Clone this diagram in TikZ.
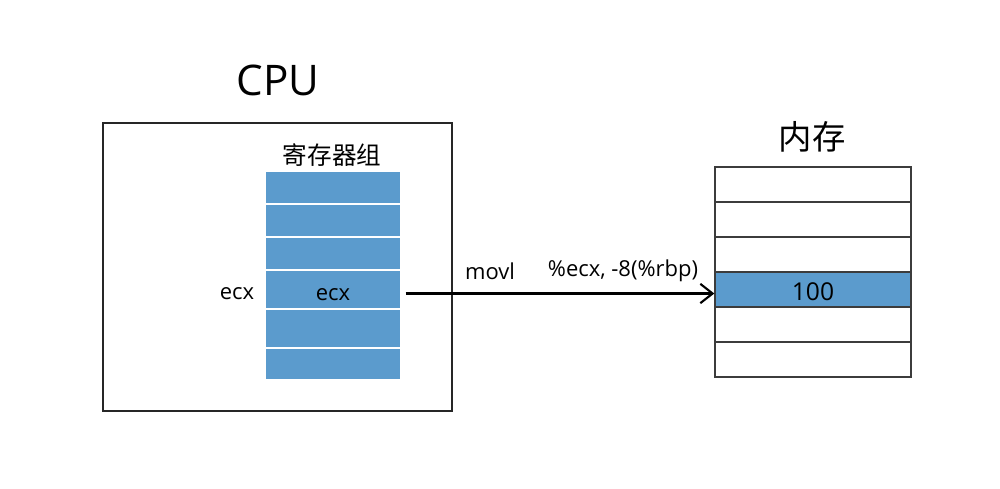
\documentclass[tikz,border=0pt]{standalone}
\usepackage{fontspec}
\setmainfont{Open Sans}
\newfontfamily\cjk{Noto Sans CJK SC}
\usetikzlibrary{arrows.meta, positioning}
\definecolor{regblue}{RGB}{91, 155, 205}
\definecolor{cellgray}{RGB}{60, 60, 60}
\tikzset{
  % Rahmen der CPU
  cpubox/.style   = {draw=black!85, line width=1pt},
  % Register- und Speicherzellen
  regcell/.style  = {fill=regblue, draw=white, line width=0.8pt,
                     minimum width=2.72cm, inner sep=0pt},
  memcell/.style  = {fill=white, draw=cellgray, line width=0.8pt,
                     minimum width=3.92cm, minimum height=0.7cm, inner sep=0pt},
  memhot/.style   = {memcell, fill=regblue},
  % Beschriftungen
  title/.style    = {font=\fontsize{24}{28}\selectfont},
  cjklab/.style   = {font=\cjk\fontsize{14}{16}\selectfont},
  cjktitle/.style = {font=\cjk\fontsize{19}{22}\selectfont},
  lab/.style      = {font=\fontsize{12.5}{14}\selectfont, inner sep=1pt},
  numlab/.style   = {font=\fontsize{14}{16}\selectfont, inner sep=1pt},
  % Datenfluss
  flow/.style     = {-{Straight Barb[length=7pt, width=11pt, line width=1.2pt]}, line width=1.7pt},
}
\begin{document}
\begin{tikzpicture}[x=0.02cm, y=-0.02cm]
  \useasboundingbox (0,0) rectangle (1000,488);
  % CPU
  \draw[cpubox] (103,123) rectangle (452,411);
  \node[title] (cpu) at (278,80) {CPU};
  % Registergruppe
  \foreach \t/\b [count=\i] in {171/204,204/237,237/270,270/309,309/348,348/380} {
    \pgfmathsetmacro\h{(\b-\t)*0.02}
    \node[regcell, minimum height=\h cm] (reg\i) at (333,{(\t+\b)/2}) {};
  }
  \node[lab] (ecxreg) at ([yshift=-0.1cm]reg4) {ecx};
  \node[cjklab] (reggroup) at (332,155) {寄存器组};
  \node[lab] (ecxlab) at (237,294) {ecx};
  % Speicher
  \foreach \i in {1,...,6} {
    \node[memcell] (mem\i) at (813,{167+17.5+35*(\i-1)}) {};
  }
  \node[memhot] (hot) at (mem4) {};
  \node[numlab] (val) at ([yshift=-0.04cm]mem4) {100};
  \node[cjktitle] (memlab) at (812,137) {内存};
  % Befehl
  \draw[flow] (reg4.east) ++(4,4) coordinate (src) -- (mem4.west |- src);
  \node[lab] (op) at (490,271) {movl};
  \node[lab] (args) at (623,271) {\%ecx, -8(\%rbp)};
\end{tikzpicture}
\end{document}
